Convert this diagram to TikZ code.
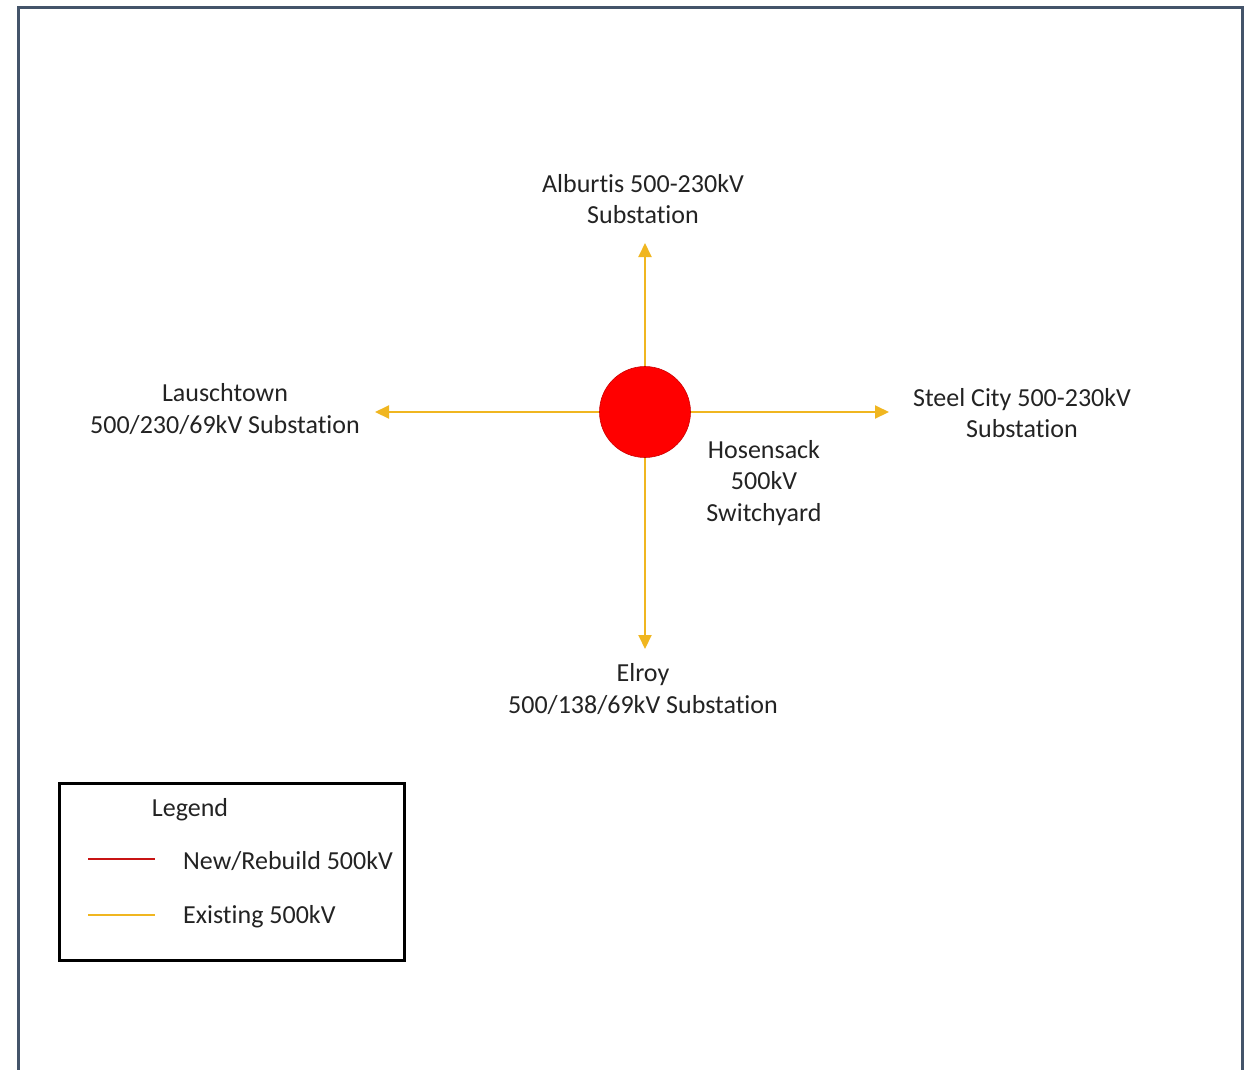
\documentclass[tikz,border=0pt]{standalone}
\usepackage{fontspec}
\setmainfont{Carlito}[Ligatures=NoCommon]
\usepackage{xcolor}
\usepackage{tikz}
\usetikzlibrary{positioning, arrows.meta}
\definecolor{frameSlate}{RGB}{68, 84, 106}
\definecolor{lineGold}{RGB}{240, 182, 32}
\definecolor{lineRed}{RGB}{200, 20, 20}
\definecolor{hubRed}{RGB}{255, 0, 0}
\definecolor{textDark}{RGB}{35, 35, 35}

\tikzset{
  lbl/.style={align=center, text=textDark, inner sep=0pt, font=\fontsize{26}{31.5}\selectfont},
  feed/.style={lineGold, line width=2pt, -{Triangle[length=14pt, width=13pt]}},
  hubdot/.style={circle, fill=hubRed, draw=hubRed!80!black, line width=0.6pt, minimum size=91pt, inner sep=0pt}
}

\begin{document}
\begin{tikzpicture}[x=1pt, y=-1pt]
  \useasboundingbox (0,0) rectangle (1253,1069);

  % Frame
  \draw[frameSlate, line width=3pt] (18,1080) -- (18,7) -- (1242,7) -- (1242,1080);

  % Feeders
  \coordinate (hubc) at (645,412);
  \coordinate (tipN) at (645,243);
  \coordinate (tipW) at (375,412);
  \coordinate (tipE) at (889,412);
  \coordinate (tipS) at (645,649);
  \draw[feed] (hubc) -- (tipN);
  \draw[feed] (hubc) -- (tipW);
  \draw[feed] (hubc) -- (tipE);
  \draw[feed] (hubc) -- (tipS);

  % Switchyard
  \node[hubdot] (hub) at (hubc) {};

  % Station labels
  \node[lbl] (alburtis) at (643,199) {Alburtis 500-230kV\\Substation};
  \node[lbl] (lauschtown) at (225,409) {Lauschtown\\500/230/69kV Substation};
  \node[lbl] (steelcity) at (1022,413) {Steel City 500-230kV\\Substation};
  \node[lbl] (hosensack) at (764,483) {Hosensack\\500kV\\Switchyard};
  \node[lbl] (elroy) at (643,689) {Elroy\\500/138/69kV Substation};

  % Legend
  \draw[black, line width=3pt] (59,783) rectangle (404,960);
  \node[lbl] (legtitle) at (190,810) {Legend};
  \node[lbl, anchor=west] (legnew) at (183,861) {New/Rebuild 500kV};
  \node[lbl, anchor=west] (legold) at (183,917) {Existing 500kV};
  \draw[lineRed, line width=1.5pt] (88,859) -- (155,859);
  \draw[lineGold, line width=1.5pt] (88,915) -- (155,915);
\end{tikzpicture}
\end{document}
